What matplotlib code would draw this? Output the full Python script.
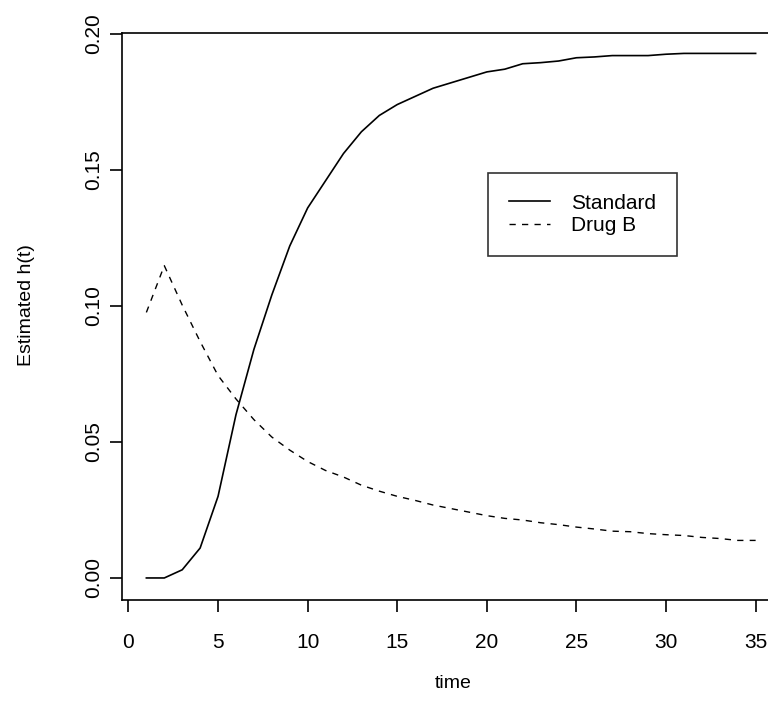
"""
Geschaetzte Hazard-Funktion h(t): Standard vs. Drug B.
"""

import matplotlib
matplotlib.use("Agg")
import matplotlib.pyplot as plt

# --- Daten ---
zeit = list(range(1, 36))

standard = [
    0.000, 0.000, 0.003, 0.011, 0.030, 0.060, 0.084, 0.104, 0.122, 0.136,
    0.146, 0.156, 0.164, 0.170, 0.174, 0.177, 0.180, 0.182, 0.184, 0.186,
    0.187, 0.189, 0.1894, 0.190, 0.1912, 0.1915, 0.192, 0.192, 0.192, 0.1925,
    0.1928, 0.1928, 0.1928, 0.1928, 0.1928,
]

drug_b = [
    0.0976, 0.1148, 0.1003, 0.0869, 0.0744, 0.0658, 0.0582, 0.0518, 0.0470, 0.0428,
    0.0395, 0.0371, 0.0341, 0.0319, 0.0300, 0.0285, 0.0268, 0.0255, 0.0242, 0.0229,
    0.0219, 0.0213, 0.0203, 0.0196, 0.0187, 0.0180, 0.0172, 0.0170, 0.0163, 0.0159,
    0.0156, 0.0149, 0.0145, 0.0138, 0.0138,
]

x_ticks = [0, 5, 10, 15, 20, 25, 30, 35]
y_ticks = [0.00, 0.05, 0.10, 0.15, 0.20]
y_tick_labels = ["0.00", "0.05", "0.10", "0.15", "0.20"]

plt.rcParams["font.family"] = ["Liberation Sans", "DejaVu Sans"]

# --- Plot ---
fig = plt.figure(figsize=(7.68, 7.13), dpi=100)
ax = fig.add_axes([122 / 768, 113 / 713, 658 / 768, 567 / 713])

ax.plot(zeit, standard, color="black", linewidth=1.2, label="Standard")
ax.plot(zeit, drug_b, color="black", linewidth=1.0, linestyle=(0, (4.5, 4.5)),
        label="Drug B")

ax.set_xlim(-0.36, 36.36)
ax.set_ylim(-0.0081, 0.2003)

ax.set_xticks(x_ticks)
ax.set_xticklabels([str(t) for t in x_ticks])
ax.set_yticks(y_ticks)
ax.set_yticklabels(y_tick_labels, rotation=90, va="center")

ax.tick_params(axis="both", direction="out", length=8.5, width=1.2,
               labelsize=15, colors="black")
ax.tick_params(axis="x", pad=15)
ax.tick_params(axis="y", pad=5)

for spine in ax.spines.values():
    spine.set_linewidth(1.2)

ax.set_xlabel("time", fontsize=14)
ax.xaxis.set_label_coords((453 - 122) / 658, (600 - 675) / 567)
ax.set_ylabel("Estimated h(t)", fontsize=14)
ax.yaxis.set_label_coords((35 - 122) / 658, (600 - 305) / 567)

leg = ax.legend(loc="upper left", bbox_to_anchor=(20.06, 0.1489),
                bbox_transform=ax.transData, fontsize=15, frameon=True,
                fancybox=False, edgecolor="black", borderpad=1.0,
                handlelength=2.0, handletextpad=1.0, labelspacing=0.15,
                borderaxespad=0)
leg.get_frame().set_linewidth(1.2)

fig.savefig("out.png", dpi=100)
